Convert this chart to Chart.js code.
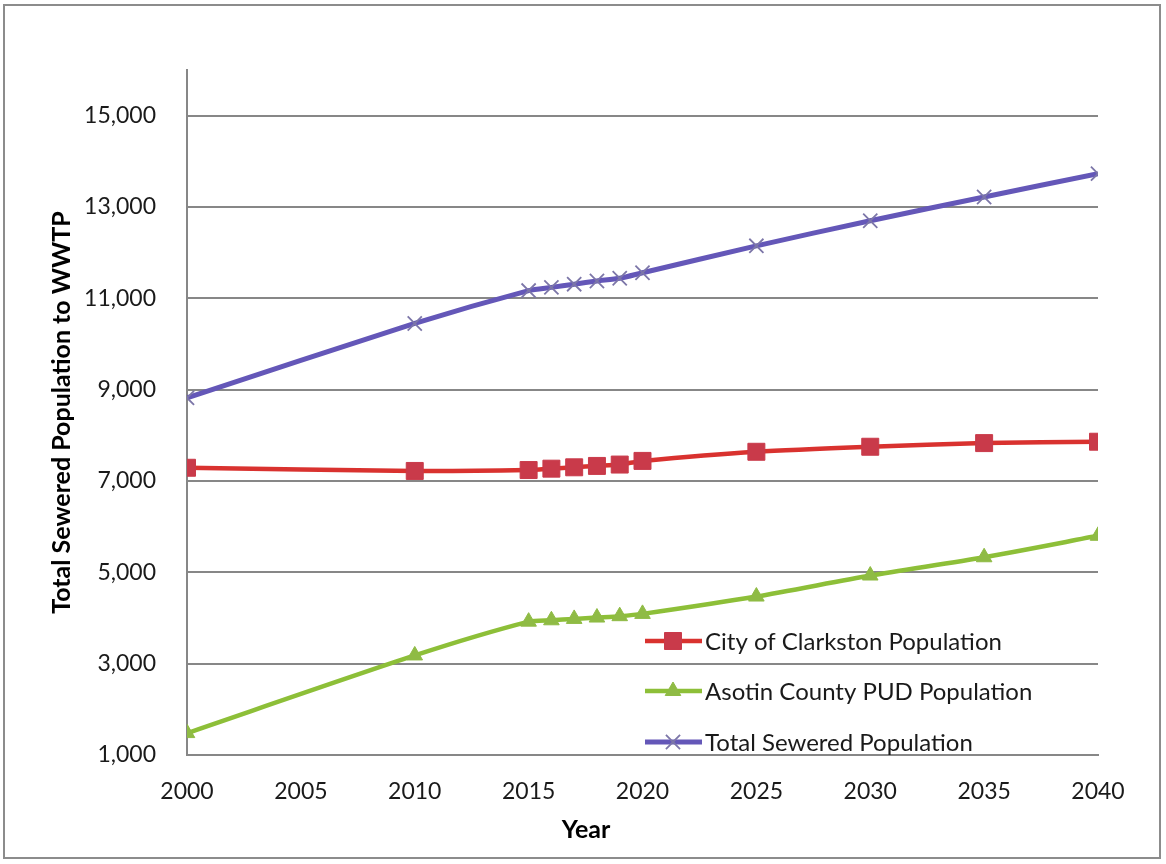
<!DOCTYPE html>
<html>
<head>
<meta charset="utf-8">
<script src="https://cdn.jsdelivr.net/npm/chart.js@4/dist/chart.umd.min.js"></script>
<style>
  html, body { margin: 0; padding: 0; background: #fff; }
  #wrap { width: 1166px; height: 864px; }
</style>
</head>
<body>
<div id="wrap"><canvas id="popChart" width="1166" height="864"></canvas></div>
<script>
// Values
const years = [2000, 2010, 2015, 2016, 2017, 2018, 2019, 2020, 2025, 2030, 2035, 2040];
const clarkston = [7290, 7220, 7240, 7270, 7300, 7330, 7360, 7440, 7640, 7750, 7830, 7860];
const asotin = [1480, 3180, 3920, 3950, 3980, 4010, 4040, 4090, 4470, 4930, 5330, 5800];
const totalSewered = [8820, 10450, 11170, 11240, 11310, 11380, 11440, 11560, 12150, 12700, 13220, 13730];

const seriesNames = ['City of Clarkston Population', 'Asotin County PUD Population', 'Total Sewered Population'];
const xTickValues = [2000, 2005, 2010, 2015, 2020, 2025, 2030, 2035, 2040];
const yTickValues = [1000, 3000, 5000, 7000, 9000, 11000, 13000, 15000];
const yAxisMax = 16000;

const FONT = 'Lato, "Open Sans", "Liberation Sans", sans-serif';
const GRID = '#878787';

function toPoints(vals) {
    return years.map((y, i) => ({ x: y, y: vals[i] }));
}

// frame around the whole figure
const framePlugin = {
    id: 'frame',
    beforeDraw(chart) {
        const ctx = chart.ctx;
        ctx.save();
        ctx.fillStyle = '#fff';
        ctx.fillRect(0, 0, chart.width, chart.height);
        ctx.strokeStyle = '#8c8c8c';
        ctx.lineWidth = 2;
        ctx.strokeRect(4, 5, 1156, 853);
        ctx.restore();
    }
};

// legend drawn inside the plot, like the Excel original
const insideLegend = {
    id: 'insideLegend',
    afterDatasetsDraw(chart) {
        const ctx = chart.ctx;
        const rows = [641, 691, 742];
        ctx.save();
        chart.data.datasets.forEach((ds, i) => {
            const y = rows[i];
            ctx.strokeStyle = ds.borderColor;
            ctx.lineWidth = ds.borderWidth;
            ctx.beginPath();
            ctx.moveTo(645, y);
            ctx.lineTo(702, y);
            ctx.stroke();
            ctx.fillStyle = ds.pointBackgroundColor;
            ctx.strokeStyle = ds.pointBorderColor;
            ctx.lineWidth = ds.pointBorderWidth;
            Chart.helpers.drawPoint(ctx, {
                pointStyle: ds.pointStyle,
                radius: ds.pointRadius,
                borderWidth: ds.pointBorderWidth,
                rotation: 0
            }, 673, y);
            ctx.fillStyle = '#1a1a1a';
            ctx.font = '24px ' + FONT;
            ctx.textBaseline = 'middle';
            ctx.textAlign = 'left';
            ctx.fillText(seriesNames[i], 705, y + 1);
        });
        // x axis title
        ctx.fillStyle = '#000';
        ctx.font = 'bold 25px ' + FONT;
        ctx.textAlign = 'center';
        ctx.fillText('Year', 586, 830);
        ctx.restore();
    }
};

document.addEventListener('DOMContentLoaded', function() {
    const ctx = document.getElementById('popChart').getContext('2d');
    new Chart(ctx, {
        type: 'line',
        data: {
            datasets: [
                {
                    label: seriesNames[0],
                    data: toPoints(clarkston),
                    borderColor: '#d9322f',
                    borderWidth: 4.5,
                    pointStyle: 'rect',
                    pointRadius: 12,
                    pointBackgroundColor: '#c93a4a',
                    pointBorderColor: '#c93a4a',
                    pointBorderWidth: 1,
                    tension: 0.25
                },
                {
                    label: seriesNames[1],
                    data: toPoints(asotin),
                    borderColor: '#8dbf38',
                    borderWidth: 4.5,
                    pointStyle: 'triangle',
                    pointRadius: 9,
                    pointBackgroundColor: '#8fbb45',
                    pointBorderColor: '#8fbb45',
                    pointBorderWidth: 1,
                    tension: 0.25
                },
                {
                    label: seriesNames[2],
                    data: toPoints(totalSewered),
                    borderColor: '#6457b8',
                    borderWidth: 5,
                    pointStyle: 'crossRot',
                    pointRadius: 10,
                    pointBackgroundColor: '#7c76a8',
                    pointBorderColor: '#7c76a8',
                    pointBorderWidth: 1.8,
                    tension: 0.25
                }
            ]
        },
        options: {
            responsive: false,
            animation: false,
            layout: { padding: { left: 0, top: 70, right: 68, bottom: 0 } },
            plugins: {
                legend: { display: false },
                tooltip: { enabled: false }
            },
            scales: {
                x: {
                    type: 'linear',
                    min: xTickValues[0],
                    max: xTickValues[xTickValues.length - 1],
                    grid: { display: false, drawTicks: false },
                    border: { color: GRID, width: 2 },
                    ticks: {
                        padding: 23,
                        color: '#1a1a1a',
                        font: { family: FONT, size: 23 },
                        callback: v => String(v)
                    },
                    afterBuildTicks: scale => {
                        scale.ticks = xTickValues.map(v => ({ value: v }));
                    },
                    afterFit: scale => { scale.height = 109; }
                },
                y: {
                    min: yTickValues[0],
                    max: yAxisMax,
                    grid: { color: GRID, lineWidth: 2, drawTicks: false },
                    border: { color: GRID, width: 2 },
                    ticks: {
                        padding: 31,
                        color: '#1a1a1a',
                        font: { family: FONT, size: 23 },
                        callback: v => v.toLocaleString('en-US')
                    },
                    afterBuildTicks: scale => {
                        scale.ticks = yTickValues.map(v => ({ value: v }));
                    },
                    title: {
                        display: true,
                        text: 'Total Sewered Population to WWTP',
                        color: '#000',
                        font: { family: FONT, size: 25, weight: 'bold' },
                        padding: { top: 47, bottom: 0 }
                    },
                    afterFit: scale => { scale.width = 187; }
                }
            }
        },
        plugins: [framePlugin, insideLegend]
    });
});
</script>
</body>
</html>
